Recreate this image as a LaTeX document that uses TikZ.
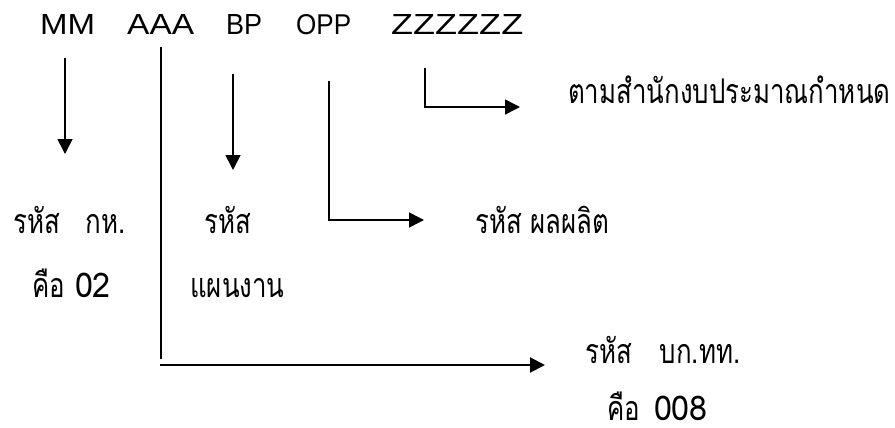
\documentclass[tikz,border=0pt]{standalone}
\usepackage{fontspec}
\usepackage{graphicx}
\setmainfont{Liberation Sans}
\newfontfamily\latinf{Liberation Sans}
\newfontfamily\thaifont[Script=Thai,FakeStretch=0.76]{Loma}
\newfontfamily\thaidig[FakeStretch=0.95]{Loma}
\newcommand{\codeword}[2]{\resizebox{#1}{20pt}{\latinf #2}}
\usetikzlibrary{arrows.meta}
\begin{document}
\begin{tikzpicture}[x=1pt,y=-1pt,
  code/.style={inner sep=0pt,anchor=base west},
  lbl/.style={inner sep=0pt,anchor=base west,font=\thaifont\fontsize{34}{36}\selectfont},
  conn/.style={line width=1.6pt},
  arr/.style={line width=1.6pt,-{Triangle[length=15pt,width=15pt]}}]
\useasboundingbox (0,0) rectangle (895,428);
% top code
\node[code] (mm)  at (40,35)  {\codeword{55pt}{MM}};
\node[code] (aaa) at (127,35) {\codeword{67pt}{AAA}};
\node[code] (bp)  at (226,35) {\codeword{36pt}{BP}};
\node[code] (opp) at (296,35) {\codeword{55pt}{OPP}};
\node[code] (zz)  at (391,35) {\codeword{132pt}{ZZZZZZ}};
% labels
\node[lbl] (lz)   at (568,103) {ตามสำนักงบประมาณกำหนด};
\node[lbl] (lmm1) at (13,233)  {รหัส\hspace{26pt}กห.};
\node[lbl] (lmm2) at (32,297)  {คือ\hspace{10pt}{\thaidig 02}};
\node[lbl] (lbp1) at (204,233) {รหัส};
\node[lbl] (lbp2) at (190,297) {แผนงาน};
\node[lbl] (lopp) at (475,233) {รหัส ผลผลิต};
\node[lbl] (la1)  at (585,363) {รหัส\hspace{28pt}บก.ทท.};
\node[lbl] (la2)  at (607,420) {คือ\hspace{14pt}{\thaidig 008}};
% connector points
\coordinate (mmS) at (65,58);   \coordinate (mmE) at (65,154);
\coordinate (bpS) at (233,74);  \coordinate (bpE) at (233,170);
\coordinate (aS)  at (161,47);  \coordinate (aC)  at (161,359);
\coordinate (aH)  at (160,365); \coordinate (aE)  at (545,365);
\coordinate (oS)  at (329,81);  \coordinate (oC)  at (329,220); \coordinate (oE) at (424,220);
\coordinate (zS)  at (425,68);  \coordinate (zC)  at (425,107); \coordinate (zE) at (520,107);
% connectors
\draw[arr] (mmS) -- (mmE);
\draw[arr] (bpS) -- (bpE);
\draw[conn] (aS) -- (aC);
\draw[arr,line width=2pt] (aH) -- (aE);
\draw[arr] (oS) -- (oC) -- (oE);
\draw[arr] (zS) -- (zC) -- (zE);
\end{tikzpicture}
\end{document}
